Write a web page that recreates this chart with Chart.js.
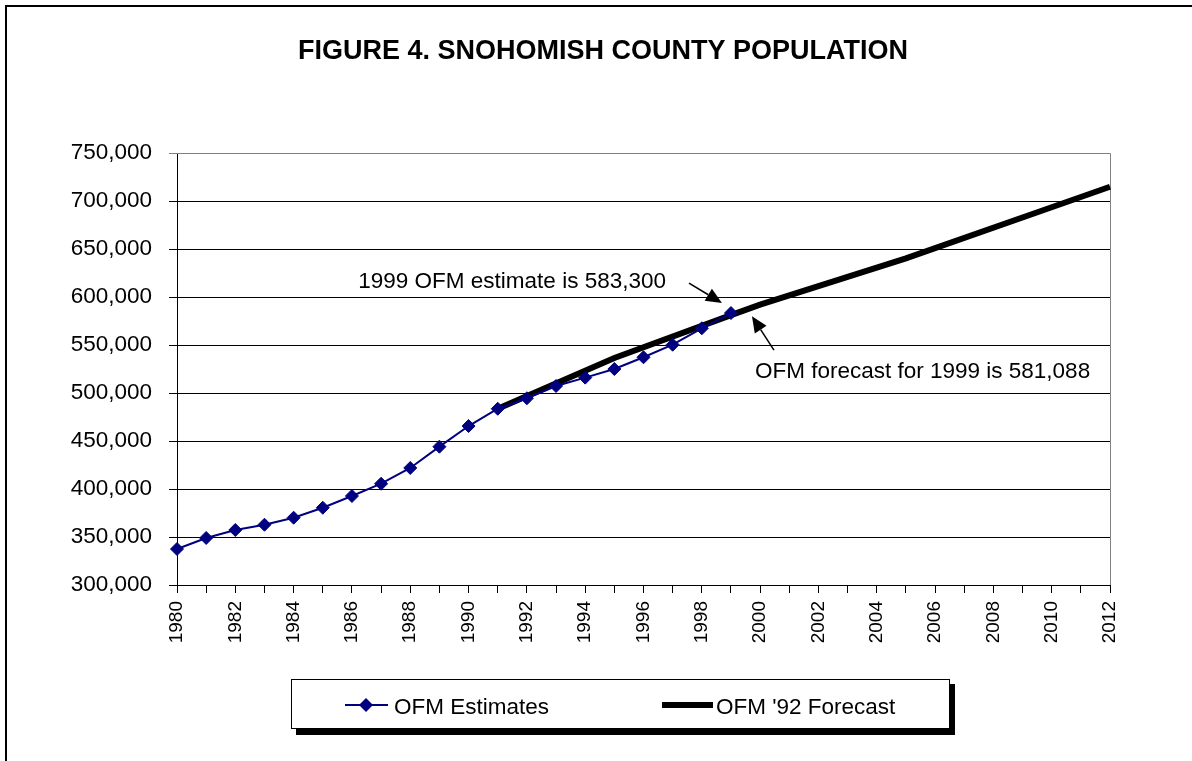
<!DOCTYPE html>
<html lang="en">
<head>
<meta charset="UTF-8">
<title>Figure 4. Snohomish County Population</title>
<style>
  html, body { margin: 0; padding: 0; background: #fff; }
  #caixa { position: relative; width: 1192px; height: 761px; }
</style>
</head>
<body>
<div id="caixa"><canvas id="grafico"></canvas></div>
<script src="https://cdn.jsdelivr.net/npm/chart.js"></script>
<script>
// anos do eixo x
const anos = [1980, 1981, 1982, 1983, 1984, 1985, 1986, 1987, 1988, 1989,
  1990, 1991, 1992, 1993, 1994, 1995, 1996, 1997, 1998, 1999,
  2000, 2001, 2002, 2003, 2004, 2005, 2006, 2007, 2008, 2009,
  2010, 2011, 2012];

// OFM Estimates (1980-1999)
const estimativas = [337500, 349000, 357300, 362800, 370100, 380500, 392700, 405500, 421900, 444100,
  465600, 483600, 494500, 507300, 516000, 525000, 537200, 550300, 567400, 583300,
  null, null, null, null, null, null, null, null, null, null,
  null, null, null];

// OFM '92 Forecast
const previsao = [null, null, null, null, null, null, null, null, null, null,
  null, 483600, null, null, null, 536500, null, null, null, 581088,
  592000, null, null, null, null, 640300, null, null, null, null,
  693500, null, 714800];

const ticksY = [300000, 350000, 400000, 450000, 500000, 550000, 600000, 650000, 700000, 750000];

const titulo = 'FIGURE 4. SNOHOMISH COUNTY POPULATION';
const nota1 = '1999 OFM estimate is 583,300';
const nota2 = 'OFM forecast for 1999 is 581,088';

const fonte = "'Liberation Sans', Arial, sans-serif";

Chart.defaults.font.family = fonte;
Chart.defaults.font.size = 22.5;
Chart.defaults.color = '#000';

function seta(ctx, x1, y1, x2, y2) {
  const ang = Math.atan2(y2 - y1, x2 - x1);
  const comp = 16, larg = 7;
  const bx = x2 - Math.cos(ang) * comp, by = y2 - Math.sin(ang) * comp;
  ctx.beginPath();
  ctx.moveTo(x1, y1);
  ctx.lineTo(bx, by);
  ctx.lineWidth = 1.5;
  ctx.stroke();
  ctx.beginPath();
  ctx.moveTo(x2, y2);
  ctx.lineTo(bx + Math.sin(ang) * larg, by - Math.cos(ang) * larg);
  ctx.lineTo(bx - Math.sin(ang) * larg, by + Math.cos(ang) * larg);
  ctx.closePath();
  ctx.fill();
}

const moldura = {
  id: 'moldura',
  beforeDraw(chart) {
    const ctx = chart.ctx;
    ctx.save();
    ctx.fillStyle = '#fff';
    ctx.fillRect(0, 0, chart.width, chart.height);
    ctx.restore();
  },
  beforeDatasetsDraw(chart) {
    const ctx = chart.ctx, a = chart.chartArea;
    ctx.save();
    ctx.strokeStyle = '#808080';
    ctx.lineWidth = 1;
    ctx.beginPath();
    ctx.moveTo(a.left, a.top + 0.5);
    ctx.lineTo(Math.round(a.right) + 0.5, a.top + 0.5);
    ctx.lineTo(Math.round(a.right) + 0.5, a.bottom);
    ctx.stroke();
    ctx.restore();
  },
  afterDraw(chart) {
    const ctx = chart.ctx;
    const sx = chart.scales.x, sy = chart.scales.y;
    ctx.save();

    // borda externa
    ctx.strokeStyle = '#000';
    ctx.lineWidth = 2;
    ctx.strokeRect(6, 6, 1400, 1000);

    // titulo
    ctx.fillStyle = '#000';
    ctx.font = 'bold 27px ' + fonte;
    ctx.textAlign = 'center';
    ctx.textBaseline = 'middle';
    ctx.fillText(titulo, 603, 52);

    // notas com setas
    const i99 = anos.indexOf(1999);
    const px = sx.getPixelForValue(i99);
    const pyE = sy.getPixelForValue(estimativas[i99]);
    const pyF = sy.getPixelForValue(previsao[i99]);
    ctx.font = '22.5px ' + fonte;
    ctx.textBaseline = 'alphabetic';
    ctx.textAlign = 'right';
    ctx.fillText(nota1, px - 65, pyE - 25);
    ctx.textAlign = 'left';
    ctx.fillText(nota2, px + 24, pyF + 63);
    ctx.strokeStyle = '#000';
    seta(ctx, px - 42, pyE - 30, px - 9, pyE - 10);
    seta(ctx, px + 43, pyF + 35, px + 21, pyF + 1);

    // legenda
    const ds = chart.data.datasets;
    ctx.fillStyle = '#000';
    ctx.fillRect(296, 684, 659, 51);
    ctx.fillStyle = '#fff';
    ctx.fillRect(291, 679, 659, 50);
    ctx.lineWidth = 1;
    ctx.strokeRect(291.5, 679.5, 658, 49);

    const ly = 705;
    ctx.strokeStyle = ds[0].borderColor;
    ctx.lineWidth = 2;
    ctx.beginPath();
    ctx.moveTo(345, ly); ctx.lineTo(388, ly); ctx.stroke();
    ctx.fillStyle = ds[0].backgroundColor;
    ctx.beginPath();
    ctx.moveTo(366, ly - 7); ctx.lineTo(373, ly); ctx.lineTo(366, ly + 7); ctx.lineTo(359, ly);
    ctx.closePath(); ctx.fill();

    ctx.strokeStyle = ds[1].borderColor;
    ctx.lineWidth = 6;
    ctx.beginPath();
    ctx.moveTo(662, ly); ctx.lineTo(713, ly); ctx.stroke();

    ctx.fillStyle = '#000';
    ctx.font = '22.5px ' + fonte;
    ctx.textAlign = 'left';
    ctx.textBaseline = 'middle';
    ctx.fillText(ds[0].label, 394, ly + 3);
    ctx.fillText(ds[1].label, 716, ly + 3);

    ctx.restore();
  }
};

new Chart(document.getElementById('grafico'), {
  type: 'line',
  data: {
    labels: anos,
    datasets: [
      {
        label: 'OFM Estimates',
        data: estimativas,
        borderColor: '#000080',
        backgroundColor: '#000080',
        borderWidth: 2,
        pointStyle: 'rectRot',
        pointRadius: 6.5,
        pointHoverRadius: 6.5,
        pointBorderWidth: 1,
        tension: 0,
        spanGaps: false
      },
      {
        label: "OFM '92 Forecast",
        data: previsao,
        borderColor: '#000',
        backgroundColor: '#000',
        borderWidth: 6,
        pointRadius: 0,
        pointHoverRadius: 0,
        tension: 0,
        spanGaps: true
      }
    ]
  },
  options: {
    responsive: true,
    maintainAspectRatio: false,
    animation: false,
    layout: { padding: { top: 153, right: 82, left: 0, bottom: 0 } },
    plugins: {
      legend: { display: false },
      title: { display: false },
      tooltip: { enabled: false }
    },
    scales: {
      x: {
        type: 'category',
        offset: false,
        grid: { drawOnChartArea: false, color: '#000', tickLength: 8 },
        border: { color: '#000', width: 1 },
        ticks: {
          autoSkip: false,
          minRotation: 90,
          maxRotation: 90,
          padding: 8,
          font: { size: 19 },
          callback: function (v, i) {
            return anos[i] % 2 === 0 ? String(anos[i]) : '';
          }
        },
        afterFit: function (s) { s.height = 176; }
      },
      y: {
        min: ticksY[0],
        max: ticksY[ticksY.length - 1],
        afterBuildTicks: function (s) { s.ticks = ticksY.map(v => ({ value: v })); },
        grid: {
          color: function (c) { return c.tick && c.tick.value === 750000 ? '#808080' : '#000'; },
          tickLength: 8
        },
        border: { color: '#000', width: 1 },
        ticks: {
          padding: 17,
          callback: function (v) { return Number(v).toLocaleString('en-US'); }
        },
        afterFit: function (s) { s.width = 177; }
      }
    }
  },
  plugins: [moldura]
});
</script>
</body>
</html>
